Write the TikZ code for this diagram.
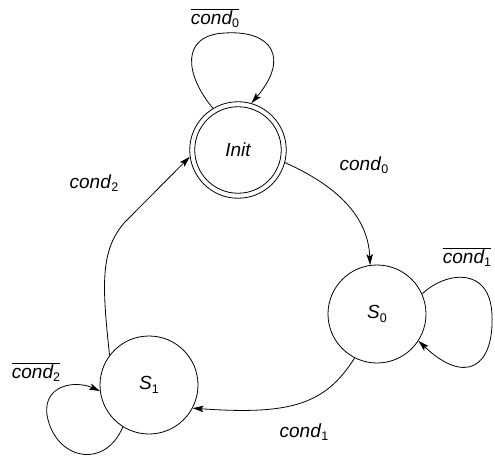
\documentclass[tikz,border=0pt]{standalone}
\usepackage{fontspec}
\setmainfont{Liberation Sans}
\usetikzlibrary{arrows.meta}
\newcommand\lsub[1]{\raisebox{-0.35ex}{\fontsize{12.5}{13}\selectfont\upshape #1}}
\newcommand\cnd[1]{\textit{cond}\lsub{#1}}
\newcommand\ncnd[1]{$\overline{\mbox{\itshape cond\lsub{#1}}}$}
\begin{document}
\begin{tikzpicture}[x=1pt,y=-1pt,
  state/.style={draw,circle,line width=0.8pt,minimum size=98pt,inner sep=0pt,
    font=\fontsize{19}{21}\selectfont\itshape},
  lbl/.style={inner sep=0pt,font=\fontsize{19}{21}\selectfont},
  edge/.style={line width=0.8pt,-{Stealth[length=11pt,width=6.5pt,inset=2.5pt]}}]
\useasboundingbox (0,0) rectangle (495,457);
\node[state,minimum size=96.5pt] (init) at (238,150) {Init};
\node[draw,circle,line width=0.8pt,minimum size=86.5pt,inner sep=0pt] (initin) at (init.center) {};
\node[state] (s0) at (377,314) {S\lsub{0}};
\node[state] (s1) at (149,385) {S\lsub{1}};
\node[lbl] (l0b) at (215,18) {\ncnd{0}};
\node[lbl] (l0) at (364,165) {\cnd{0}};
\node[lbl] (l1b) at (467,257) {\ncnd{1}};
\node[lbl] (l1) at (304,432) {\cnd{1}};
\node[lbl] (l2) at (94,183) {\cnd{2}};
\node[lbl] (l2b) at (36,372) {\ncnd{2}};
% Init self loop
\draw[edge] (init.121) .. controls (185,75) and (180,35) .. (225,33)
  .. controls (272,30) and (290,58) .. (init.74);
% Init -> S0
\draw[edge] (init.-15) .. controls (335,185) and (368,215) .. (s0.98);
% S0 self loop
\draw[edge] (s0.24) .. controls (445,272) and (490,265) .. (492,315)
  .. controls (494,368) and (465,385) .. (s0.-33);
% S0 -> S1
\draw[edge] (s0.243) .. controls (325,405) and (290,415) .. (s1.-28);
% S1 self loop
\draw[edge] (s1.238) .. controls (105,470) and (55,460) .. (47,415)
  .. controls (43,385) and (75,380) .. (s1.187);
% S1 -> Init
\draw[edge] (s1.143) .. controls (102,285) and (100,250) .. (125,222) -- (init.188);
\end{tikzpicture}
\end{document}
